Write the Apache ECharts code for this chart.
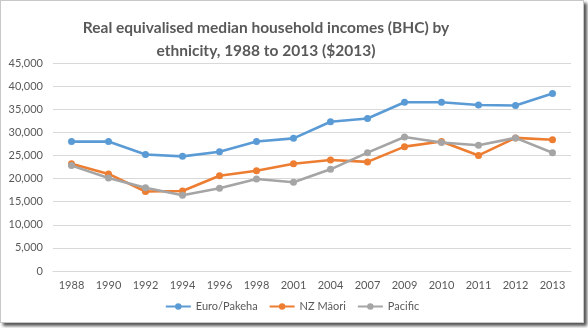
<!DOCTYPE html>
<html><head><meta charset="utf-8">
<script src="https://cdn.jsdelivr.net/npm/echarts@6/dist/echarts.min.js"></script>
<style>
html,body{margin:0;padding:0;background:#fff;width:588px;height:328px;overflow:hidden;}
#frame{position:absolute;left:0;top:0;width:582px;height:321px;border:1px solid #c8c8c8;box-shadow:3px 3px 3px #555;background:#fff;}
#chart{position:absolute;left:0;top:0;width:582px;height:321px;}
</style></head>
<body>
<div id="frame"><div id="chart"></div></div>
<script>
var years = ['1988','1990','1992','1994','1996','1998','2001','2004','2007','2009','2010','2011','2012','2013'];
var euroPakeha = [28000,28000,25200,24800,25800,28000,28700,32300,33000,36500,36500,35900,35800,38400];
var nzMaori = [23200,21000,17200,17300,20600,21700,23200,24000,23600,26900,28000,25000,28800,28400];
var pacific = [22800,20100,18000,16400,17900,19900,19200,22000,25600,29000,27800,27200,28800,25600];
var yTicks = [0,5000,10000,15000,20000,25000,30000,35000,40000,45000];

var font = 'Lato, "Open Sans", sans-serif';
var txt = '#595959';
function mk(name, data, color){
  return {name:name, type:'line', data:data, symbol:'circle', symbolSize:7,
    lineStyle:{width:2.6,color:color}, itemStyle:{color:color}, emphasis:{disabled:true}};
}
var chart = echarts.init(document.getElementById('chart'));
chart.setOption({
  animation:false,
  color:['#5B9BD5','#ED7D31','#A5A5A5'],
  title:{text:'Real equivalised median household incomes (BHC) by\nethnicity, 1988 to 2013 ($2013)', left:260, top:10, textAlign:'center',
    textStyle:{fontFamily:font,fontSize:15.5,fontWeight:'bold',color:txt,lineHeight:23}},
  legend:{bottom:5, left:'center', itemWidth:25, itemHeight:8, itemGap:11,
    textStyle:{fontFamily:font,fontSize:11,color:txt}},
  grid:{left:52, right:12, top:62, bottom:51},
  xAxis:{type:'category', data:years, boundaryGap:true,
    axisLine:{show:true,lineStyle:{color:'#d9d9d9'}}, axisTick:{show:false},
    axisLabel:{fontFamily:font,fontSize:11,color:txt,margin:9}},
  yAxis:{type:'value', min:0, max:45000, interval:5000,
    axisLine:{show:false}, axisTick:{show:false},
    splitLine:{lineStyle:{color:'#d9d9d9'}},
    axisLabel:{fontFamily:font,fontSize:11,color:txt,margin:10,
      formatter:function(v){return yTicks.indexOf(v)>=0 ? v.toLocaleString('en-US') : '';}}},
  series:[mk('Euro/Pakeha',euroPakeha,'#5B9BD5'), mk('NZ Māori',nzMaori,'#ED7D31'), mk('Pacific',pacific,'#A5A5A5')]
});
</script>
</body></html>
